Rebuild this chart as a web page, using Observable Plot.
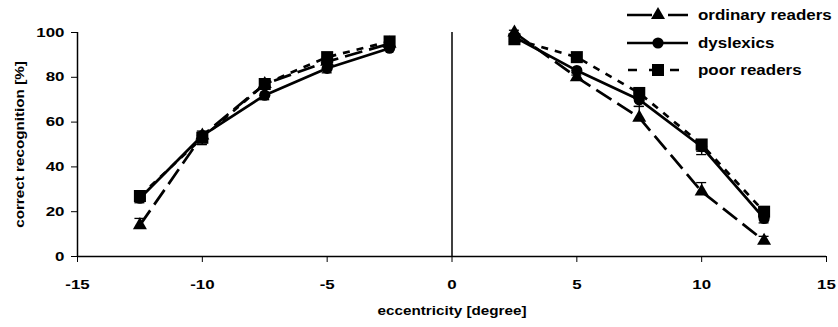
<!DOCTYPE html>
<html>
<head>
<meta charset="utf-8">
<script src="https://cdn.jsdelivr.net/npm/d3@7"></script>
<script src="https://cdn.jsdelivr.net/npm/@observablehq/plot@0.6"></script>
<style>
  html, body { margin: 0; padding: 0; background: #fff; }
  #chart { position: relative; width: 838px; height: 327px; }
  #chart svg text { font-family: "Liberation Sans", Arial, sans-serif; font-weight: bold; }
  #legend { position: absolute; left: 0; top: 0; pointer-events: none; }
</style>
</head>
<body>
<div id="chart"></div>
<script>
// ---- data ----
const series = ["ordinary readers", "dyslexics", "poor readers"];
const eccentricity = [-12.5, -10, -7.5, -5, -2.5, 2.5, 5, 7.5, 10, 12.5];
const ordinary  = [14, 54, 77, 87, 95, 100, 80, 62, 29, 7];
const dyslexics = [26, 54, 72, 84, 93, 98, 83, 70, 49, 17];
const poor      = [27, 53, 77, 89, 96, 97, 89, 73, 50, 20];
// one-sided error bars: ordinary readers upward, the other groups downward
const ordinaryErr  = [3, 2, 2, 2, 1, 1, 2, 5, 4, 2];
const dyslexicsErr = [2, 4, 2, 2, 1, 1, 2, 3, 3.5, 2];
const poorErr      = [2, 3, 2, 2, 1, 1, 2, 2, 3, 2];
const errSign = [1, -1, -1];
const xTicks = [-15, -10, -5, 0, 5, 10, 15];
const yTicks = [0, 20, 40, 60, 80, 100];
const xDomain = [-15, 15];
const yDomain = [0, 100];
const xTitle = "eccentricity [degree]";
const yTitle = "correct recognition [%]";

// ---- styles ----
const values = [ordinary, dyslexics, poor];
const errs = [ordinaryErr, dyslexicsErr, poorErr];
const symbols = ["triangle", "circle", "square"];
const radii = [5.2, 5.6, 6.8];
const dashes = ["18,7", null, "7,7"];

const rows = series.map((s, i) => eccentricity.map((x, j) => ({
  series: s, x, v: values[i][j], e: errs[i][j] * errSign[i], side: x < 0 ? "L" : "R"
})));

const marks = [
  Plot.ruleX([0], {stroke: "black", strokeWidth: 1.5}),
  Plot.ruleX([xDomain[0]], {stroke: "black", strokeWidth: 1.5}),
  Plot.ruleY([yDomain[0]], {stroke: "black", strokeWidth: 1.5})
];
rows.forEach((data, i) => {
  marks.push(Plot.line(data, {x: "x", y: "v", z: "side", stroke: "black", strokeWidth: 2.7,
    strokeDasharray: dashes[i] || undefined, strokeLinecap: "butt"}));
});
rows.forEach((data) => {
  marks.push(Plot.ruleX(data, {x: "x", y1: "v", y2: d => d.v + d.e, stroke: "black", strokeWidth: 1.3}));
  marks.push(Plot.ruleY(data, {y: d => d.v + d.e, x1: d => d.x - 0.2, x2: d => d.x + 0.2, stroke: "black", strokeWidth: 1.3}));
});
rows.forEach((data, i) => {
  marks.push(Plot.dot(data, {x: "x", y: "v", symbol: () => symbols[i], r: radii[i], fill: "black", stroke: "none"}));
});
marks.push(Plot.text([yTitle], {text: d => d, frameAnchor: "left", rotate: -90, dx: -57,
  textAnchor: "middle", lineAnchor: "middle", fontSize: 12, fill: "black"}));
marks.push(Plot.text([xTitle], {text: d => d, frameAnchor: "bottom", dy: 55,
  textAnchor: "middle", lineAnchor: "middle", fontSize: 12, fill: "black"}));

const plot = Plot.plot({
  width: 838,
  height: 327,
  marginLeft: 77,
  marginRight: 12,
  marginTop: 32,
  marginBottom: 71,
  style: {background: "white", color: "black", fontSize: "13px", fontFamily: "Liberation Sans, Arial, sans-serif", fontWeight: "bold", overflow: "visible"},
  symbol: {type: "identity"},
  x: {domain: xDomain, ticks: xTicks, tickSize: 6, tickPadding: 17, tickFormat: d => `${d}`, label: null},
  y: {domain: yDomain, ticks: yTicks, tickSize: 6, tickPadding: 7, tickFormat: d => `${d}`, label: null},
  marks
});
const chart = document.getElementById("chart");
chart.appendChild(plot);

// ---- legend overlay ----
const leg = d3.select(chart).append("svg").attr("id", "legend").attr("width", 838).attr("height", 90);
const rowY = [15, 43, 70];
series.forEach((s, i) => {
  const g = leg.append("g").attr("transform", `translate(0,${rowY[i]})`);
  g.append("line").attr("x1", 627).attr("x2", 688).attr("y1", 0).attr("y2", 0)
    .attr("stroke", "black").attr("stroke-width", 2.7)
    .attr("stroke-dasharray", i === 0 ? "25,16" : i === 2 ? "9,12" : null)
    .attr("stroke-dashoffset", i === 2 ? -1 : 0);
  const sym = [d3.symbolTriangle, d3.symbolCircle, d3.symbolSquare][i];
  g.append("path").attr("transform", "translate(658,0)")
    .attr("d", d3.symbol(sym, Math.PI * radii[i] * radii[i])()).attr("fill", "black");
  g.append("text").attr("x", 698).attr("y", 0).attr("dy", "0.36em")
    .attr("font-size", 15).text(s);
});

// horizontal stretch of the text around its anchor point, as in the reference
function stretch(el, f) {
  const ax = parseFloat(el.getAttribute("x")) || 0;
  const ay = parseFloat(el.getAttribute("y")) || 0;
  const t = el.getAttribute("transform") || "";
  el.setAttribute("transform", `${t} translate(${ax},${ay}) scale(${f},1) translate(${-ax},${-ay})`);
}
d3.select(plot).selectAll("text").each(function() {
  const t = this.textContent;
  stretch(this, (t === xTitle || t === yTitle) ? 1.27 : 1.3);
});
leg.selectAll("text").each(function() { stretch(this, 1.13); });
</script>
</body>
</html>
